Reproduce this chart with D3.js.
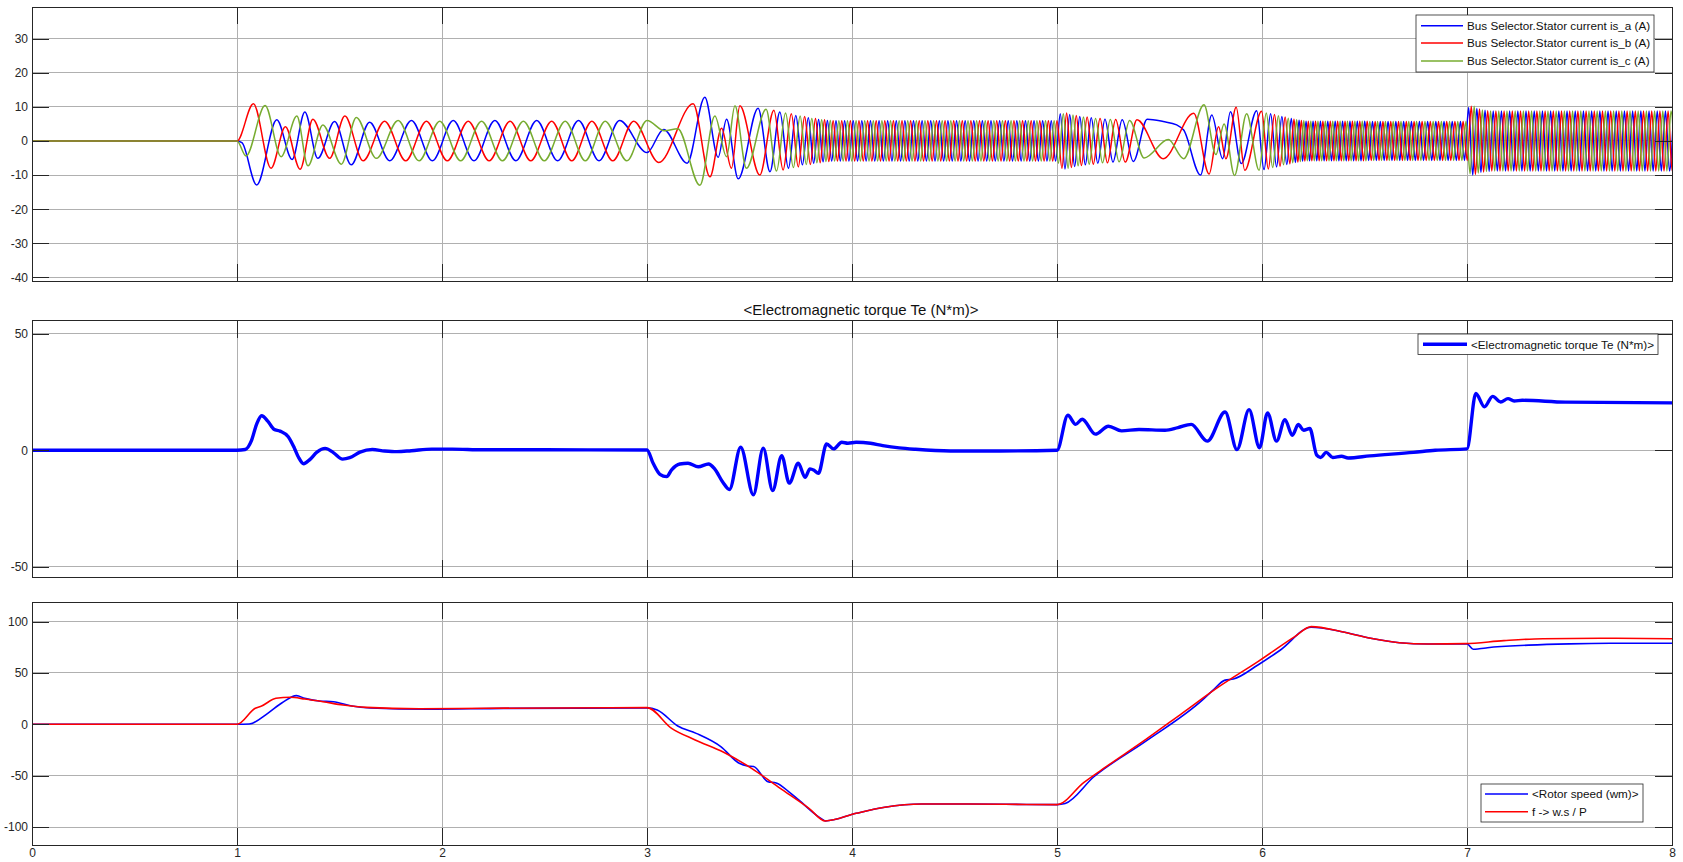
<!DOCTYPE html>
<html>
<head>
<meta charset="utf-8">
<script src="https://cdn.jsdelivr.net/npm/d3@7"></script>
<style>
html, body { margin: 0; padding: 0; background: #fff; }
svg { display: block; font-family: "Liberation Sans", Arial, Helvetica, sans-serif; }
</style>
</head>
<body>
<svg id="fig" width="1683" height="862"></svg>
<script>
// ---- axis ticks ----
const timeTicks = [0, 1, 2, 3, 4, 5, 6, 7, 8];
const currentTicks = [-40, -30, -20, -10, 0, 10, 20, 30];
const torqueTicks = [-50, 0, 50];
const speedTicks = [-100, -50, 0, 50, 100];

// ---- labels ----
const currentLabels = [
  "Bus Selector.Stator current is_a (A)",
  "Bus Selector.Stator current is_b (A)",
  "Bus Selector.Stator current is_c (A)"
];
const torqueLabel = "<Electromagnetic torque Te (N*m)>";
const speedLabels = ["<Rotor speed (wm)>", "f ->  w.s / P"];

// ---- stator currents: successive peaks / troughs [time s, current A] ----
const isA = [
  [0,0],[1.000,0],[1.024,-0.5],[1.096,-12.9],[1.194,6.2],[1.269,-5.4],[1.331,8.5],[1.394,-5.1],[1.476,5.7],[1.557,-7.0],[1.647,5.5],[1.745,-5.8],[1.851,6.0],[1.953,-5.8],[2.055,6.0],[2.156,-5.8],[2.258,6.0],[2.360,-5.8],[2.462,6.0],[2.564,-5.8],[2.666,6.0],[2.766,-5.8],[2.866,6.0],
  [3.000,-3.4],[3.081,3.4],[3.196,-6.5],[3.282,12.8],[3.347,-4.8],[3.388,6.4],[3.445,-11.1],[3.542,9.6],
  [3.600,-9.0],[3.648,8.5],[3.690,-8.0],[3.726,7.5],[3.758,-7.0],[3.787,6.8],[3.813,-6.5],[3.837,6.3],[3.859,-6.1],[3.880,6.0],
  [3.901,-5.9],[3.922,5.9],[3.943,-5.9],[3.964,5.9],[3.985,-5.9],[4.006,5.9],[4.027,-5.9],[4.048,5.9],[4.069,-5.9],[4.090,5.9],[4.111,-5.9],[4.132,5.9],[4.153,-5.9],[4.174,5.9],[4.195,-5.9],[4.216,5.9],[4.237,-5.9],[4.258,5.9],[4.279,-5.9],[4.300,5.9],[4.321,-5.9],[4.342,5.9],[4.363,-5.9],[4.384,5.9],[4.405,-5.9],[4.426,5.9],[4.447,-5.9],[4.468,5.9],[4.489,-5.9],[4.510,5.9],[4.531,-5.9],[4.552,5.9],[4.573,-5.9],[4.594,5.9],[4.615,-5.9],[4.636,5.9],[4.657,-5.9],[4.678,5.9],[4.699,-5.9],[4.720,5.9],[4.741,-5.9],[4.762,5.9],[4.783,-5.9],[4.804,5.9],[4.825,-5.9],[4.846,5.9],[4.867,-5.9],[4.888,5.9],[4.909,-5.9],[4.930,5.9],[4.951,-5.9],[4.972,5.9],[4.993,-5.9],
  [5.016,8.0],[5.039,-8.2],[5.062,7.8],[5.086,-7.5],[5.111,7.2],[5.138,-7.0],[5.167,6.8],[5.199,-6.5],[5.234,6.4],[5.273,-6.2],[5.318,6.2],[5.372,-6.0],[5.440,6.4],
  [5.518,5.7],[5.584,4.7],[5.618,3.2],[5.700,-10.0],[5.755,7.6],[5.808,-5.2],[5.846,8.6],[5.899,-6.6],
  [5.974,8.9],[6.010,-8.4],[6.042,8.0],[6.071,-7.6],[6.097,7.2],[6.121,-6.9],[6.143,6.6],[6.163,-6.3],[6.181,6.1],[6.198,-5.9],[6.215,5.8],[6.232,-5.8],[6.249,5.8],
  [6.267,-5.8],[6.285,5.8],[6.303,-5.8],[6.321,5.8],[6.339,-5.8],[6.357,5.8],[6.375,-5.8],[6.393,5.8],[6.411,-5.8],[6.429,5.8],[6.447,-5.8],[6.465,5.8],[6.483,-5.8],[6.501,5.8],[6.520,-5.7],[6.539,5.7],[6.558,-5.7],[6.577,5.7],[6.596,-5.7],[6.615,5.7],[6.634,-5.7],[6.653,5.7],[6.672,-5.7],[6.691,5.7],[6.710,-5.7],[6.729,5.7],[6.748,-5.7],[6.768,5.7],[6.788,-5.7],[6.808,5.7],[6.828,-5.7],[6.848,5.7],[6.868,-5.7],[6.888,5.7],[6.908,-5.7],[6.928,5.7],[6.948,-5.7],[6.968,5.7],[6.988,-5.7],
  [7.008,9.8],[7.028,-10.0],[7.048,9.5],[7.068,-9.2],[7.088,9.0],[7.108,-8.9],[7.128,8.8],[7.148,-8.8],[7.168,8.8],[7.188,-8.8],[7.208,8.8],[7.228,-8.8],[7.248,8.8],[7.268,-8.8],[7.288,8.8],[7.308,-8.8],[7.328,8.8],[7.348,-8.8],[7.368,8.8],[7.388,-8.8],[7.408,8.8],[7.428,-8.8],[7.448,8.8],[7.468,-8.8],[7.488,8.8],[7.508,-8.8],[7.528,8.8],[7.548,-8.8],[7.568,8.8],[7.588,-8.8],[7.608,8.8],[7.628,-8.8],[7.648,8.8],[7.668,-8.8],[7.688,8.8],[7.708,-8.8],[7.728,8.8],[7.748,-8.8],[7.768,8.8],[7.788,-8.8],[7.808,8.8],[7.828,-8.8],[7.848,8.8],[7.868,-8.8],[7.888,8.8],[7.908,-8.8],[7.928,8.8],[7.948,-8.8],[7.968,8.8],[7.988,-8.8],[8.008,8.8]
];

const isB = [
  [0,0],[1.000,0],[1.080,10.9],[1.166,-8.0],[1.236,4.2],[1.308,-8.3],[1.370,6.4],[1.452,-5.1],[1.526,7.3],[1.615,-5.8],[1.720,5.8],[1.823,-5.8],[1.924,5.8],[2.026,-5.8],[2.128,5.8],[2.230,-5.8],[2.332,5.8],[2.433,-5.8],[2.535,5.8],[2.633,-5.8],[2.731,5.8],[2.833,-5.8],[2.935,5.8],
  [3.057,-6.3],[3.225,10.9],[3.307,-10.5],[3.364,3.7],[3.412,-8.0],[3.453,10.3],[3.550,-10.0],
  [3.619,9.0],[3.664,-8.5],[3.704,8.0],[3.738,-7.6],[3.769,7.2],[3.797,-6.9],[3.822,6.6],[3.845,-6.4],[3.866,6.2],[3.887,-6.0],[3.908,5.9],
  [3.929,-5.9],[3.950,5.9],[3.971,-5.9],[3.992,5.9],[4.013,-5.9],[4.034,5.9],[4.055,-5.9],[4.076,5.9],[4.097,-5.9],[4.118,5.9],[4.139,-5.9],[4.160,5.9],[4.181,-5.9],[4.202,5.9],[4.223,-5.9],[4.244,5.9],[4.265,-5.9],[4.286,5.9],[4.307,-5.9],[4.328,5.9],[4.349,-5.9],[4.370,5.9],[4.391,-5.9],[4.412,5.9],[4.433,-5.9],[4.454,5.9],[4.475,-5.9],[4.496,5.9],[4.517,-5.9],[4.538,5.9],[4.559,-5.9],[4.580,5.9],[4.601,-5.9],[4.622,5.9],[4.643,-5.9],[4.664,5.9],[4.685,-5.9],[4.706,5.9],[4.727,-5.9],[4.748,5.9],[4.769,-5.9],[4.790,5.9],[4.811,-5.9],[4.832,5.9],[4.853,-5.9],[4.874,5.9],[4.895,-5.9],[4.916,5.9],[4.937,-5.9],[4.958,5.9],[4.979,-5.9],[5.000,5.9],
  [5.024,-8.0],[5.047,8.2],[5.070,-7.8],[5.094,7.5],[5.119,-7.2],[5.147,7.0],[5.177,-6.8],[5.210,6.6],[5.246,-6.4],[5.286,6.3],[5.333,-6.2],[5.390,6.2],
  [5.518,-5.2],[5.667,8.1],[5.742,-9.7],[5.788,4.2],[5.824,-5.2],[5.874,9.9],[5.916,-8.6],
  [5.998,8.7],[6.031,-8.2],[6.061,7.8],[6.088,-7.4],[6.113,7.0],[6.136,-6.7],[6.156,6.4],[6.175,-6.2],[6.192,6.0],[6.209,-5.9],[6.226,5.8],[6.243,-5.8],[6.261,5.8],
  [6.279,-5.8],[6.297,5.8],[6.315,-5.8],[6.333,5.8],[6.351,-5.8],[6.369,5.8],[6.387,-5.8],[6.405,5.8],[6.423,-5.8],[6.441,5.8],[6.459,-5.8],[6.477,5.8],[6.495,-5.8],[6.513,5.8],[6.533,-5.7],[6.552,5.7],[6.571,-5.7],[6.590,5.7],[6.609,-5.7],[6.628,5.7],[6.647,-5.7],[6.666,5.7],[6.685,-5.7],[6.704,5.7],[6.723,-5.7],[6.742,5.7],[6.761,-5.7],[6.781,5.7],[6.801,-5.7],[6.821,5.7],[6.841,-5.7],[6.861,5.7],[6.881,-5.7],[6.901,5.7],[6.921,-5.7],[6.941,5.7],[6.961,-5.7],[6.981,5.7],[7.001,-5.7],
  [7.021,10.2],[7.041,-9.8],[7.061,9.4],[7.081,-9.1],[7.101,8.9],[7.121,-8.8],[7.141,8.8],[7.161,-8.8],[7.181,8.8],[7.201,-8.8],[7.221,8.8],[7.241,-8.8],[7.261,8.8],[7.281,-8.8],[7.301,8.8],[7.321,-8.8],[7.341,8.8],[7.361,-8.8],[7.381,8.8],[7.401,-8.8],[7.421,8.8],[7.441,-8.8],[7.461,8.8],[7.481,-8.8],[7.501,8.8],[7.521,-8.8],[7.541,8.8],[7.561,-8.8],[7.581,8.8],[7.601,-8.8],[7.621,8.8],[7.641,-8.8],[7.661,8.8],[7.681,-8.8],[7.701,8.8],[7.721,-8.8],[7.741,8.8],[7.761,-8.8],[7.781,8.8],[7.801,-8.8],[7.821,8.8],[7.841,-8.8],[7.861,8.8],[7.881,-8.8],[7.901,8.8],[7.921,-8.8],[7.941,8.8],[7.961,-8.8],[7.981,8.8],[8.001,-8.8],[8.021,8.8]
];

const isC = [
  [0,0],[1.000,0],[1.044,-4.4],[1.137,10.4],[1.215,-4.6],[1.292,7.3],[1.346,-7.3],[1.419,4.7],[1.509,-6.8],[1.582,6.9],[1.680,-5.1],[1.786,6.0],[1.888,-5.8],[1.989,5.8],[2.091,-5.8],[2.193,5.8],[2.295,-5.8],[2.397,5.8],[2.499,-5.8],[2.601,5.8],[2.699,-5.8],[2.796,5.8],[2.902,-5.8],
  [3.000,6.0],[3.085,3.0],[3.150,3.6],[3.258,-13.0],[3.331,7.3],[3.388,-4.6],[3.429,10.3],[3.485,-8.0],
  [3.581,9.3],[3.632,-8.8],[3.676,8.2],[3.714,-7.8],[3.747,7.3],[3.777,-6.9],[3.804,6.6],[3.829,-6.4],[3.852,6.2],[3.873,-6.0],[3.894,6.0],
  [3.915,-5.9],[3.936,5.9],[3.957,-5.9],[3.978,5.9],[3.999,-5.9],[4.020,5.9],[4.041,-5.9],[4.062,5.9],[4.083,-5.9],[4.104,5.9],[4.125,-5.9],[4.146,5.9],[4.167,-5.9],[4.188,5.9],[4.209,-5.9],[4.230,5.9],[4.251,-5.9],[4.272,5.9],[4.293,-5.9],[4.314,5.9],[4.335,-5.9],[4.356,5.9],[4.377,-5.9],[4.398,5.9],[4.419,-5.9],[4.440,5.9],[4.461,-5.9],[4.482,5.9],[4.503,-5.9],[4.524,5.9],[4.545,-5.9],[4.566,5.9],[4.587,-5.9],[4.608,5.9],[4.629,-5.9],[4.650,5.9],[4.671,-5.9],[4.692,5.9],[4.713,-5.9],[4.734,5.9],[4.755,-5.9],[4.776,5.9],[4.797,-5.9],[4.818,5.9],[4.839,-5.9],[4.860,5.9],[4.881,-5.9],[4.902,5.9],[4.923,-5.9],[4.944,5.9],[4.965,-5.9],[4.986,5.9],
  [5.007,-6.5],[5.031,8.0],[5.054,-8.0],[5.078,7.6],[5.103,-7.3],[5.129,7.0],[5.157,-6.8],[5.188,6.6],[5.222,-6.4],[5.260,6.3],[5.303,-6.1],[5.354,6.0],
  [5.425,-5.0],[5.543,0.4],[5.618,-5.2],[5.717,10.6],[5.775,-4.0],[5.815,5.0],[5.866,-10.1],[5.925,8.0],
  [5.986,-8.6],[6.021,8.2],[6.052,-7.8],[6.080,7.4],[6.105,-7.0],[6.128,6.7],[6.150,-6.4],[6.169,6.2],[6.187,-6.0],[6.204,5.9],[6.221,-5.8],[6.238,5.8],[6.255,-5.8],
  [6.273,5.8],[6.291,-5.8],[6.309,5.8],[6.327,-5.8],[6.345,5.8],[6.363,-5.8],[6.381,5.8],[6.399,-5.8],[6.417,5.8],[6.435,-5.8],[6.453,5.8],[6.471,-5.8],[6.489,5.8],[6.507,-5.8],[6.526,5.7],[6.545,-5.7],[6.564,5.7],[6.583,-5.7],[6.602,5.7],[6.621,-5.7],[6.640,5.7],[6.659,-5.7],[6.678,5.7],[6.697,-5.7],[6.716,5.7],[6.735,-5.7],[6.754,5.7],[6.775,-5.7],[6.795,5.7],[6.815,-5.7],[6.835,5.7],[6.855,-5.7],[6.875,5.7],[6.895,-5.7],[6.915,5.7],[6.935,-5.7],[6.955,5.7],[6.975,-5.7],[6.995,5.7],
  [7.015,-9.6],[7.035,10.2],[7.055,-9.4],[7.075,9.1],[7.095,-8.9],[7.115,8.8],[7.135,-8.8],[7.155,8.8],[7.175,-8.8],[7.195,8.8],[7.215,-8.8],[7.235,8.8],[7.255,-8.8],[7.275,8.8],[7.295,-8.8],[7.315,8.8],[7.335,-8.8],[7.355,8.8],[7.375,-8.8],[7.395,8.8],[7.415,-8.8],[7.435,8.8],[7.455,-8.8],[7.475,8.8],[7.495,-8.8],[7.515,8.8],[7.535,-8.8],[7.555,8.8],[7.575,-8.8],[7.595,8.8],[7.615,-8.8],[7.635,8.8],[7.655,-8.8],[7.675,8.8],[7.695,-8.8],[7.715,8.8],[7.735,-8.8],[7.755,8.8],[7.775,-8.8],[7.795,8.8],[7.815,-8.8],[7.835,8.8],[7.855,-8.8],[7.875,8.8],[7.895,-8.8],[7.915,8.8],[7.935,-8.8],[7.955,8.8],[7.975,-8.8],[7.995,8.8],[8.015,-8.8]
];

// ---- electromagnetic torque [time s, N*m] ----
const torque = [
  [0,0],[1.000,0],[1.04,0.3],[1.07,4.0],[1.095,11.0],[1.12,14.8],[1.15,12.5],[1.18,9.0],[1.21,8.2],[1.25,5.8],[1.28,0.9],[1.30,-3.0],[1.325,-5.8],[1.355,-4.0],[1.39,-0.8],[1.43,0.8],[1.47,-1.0],[1.515,-3.8],[1.55,-3.2],[1.60,-0.8],[1.66,0.3],[1.72,-0.3],[1.78,-0.6],[1.85,-0.2],[1.95,0.5],[2.05,0.5],[2.2,0.2],[2.5,0.2],[3.0,0.1],
  [3.03,-5.6],[3.063,-10.3],[3.096,-11.3],[3.12,-8.4],[3.16,-5.9],[3.20,-5.6],[3.25,-7.1],[3.30,-5.9],[3.33,-8.0],[3.37,-13.7],[3.402,-16.8],[3.457,1.3],[3.519,-19.1],[3.567,0.9],[3.613,-17.3],[3.657,-2.3],[3.694,-14.1],[3.738,-5.6],[3.771,-11.6],[3.795,-8.0],[3.815,-8.6],[3.836,-9.9],[3.876,2.7],[3.91,0.6],[3.95,3.4],[3.98,3.0],[4.02,3.4],[4.09,3.0],[4.15,2.0],[4.23,1.0],[4.31,0.4],[4.48,-0.3],[4.72,-0.3],[5.0,0],
  [5.053,15.0],[5.091,11.1],[5.123,13.3],[5.187,6.9],[5.251,10.3],[5.315,8.3],[5.40,8.9],[5.527,8.6],[5.59,9.7],[5.655,11.1],[5.733,3.9],[5.82,16.4],[5.878,0.3],[5.937,17.4],[5.988,1.1],[6.027,16.0],[6.071,3.9],[6.112,13.1],[6.148,6.4],[6.177,11.0],[6.203,8.6],[6.233,9.3],[6.267,-2.1],[6.286,-3.1],[6.313,-0.9],[6.345,-3.1],[6.388,-2.6],[6.42,-3.3],[6.526,-2.4],[6.739,-0.9],[6.845,0],[7.0,0.6],
  [7.043,24.3],[7.085,18.6],[7.125,23.1],[7.164,20.7],[7.2,22.1],[7.23,21.1],[7.27,21.4],[7.48,20.6],[8.0,20.3]
];

// ---- rotor speed and reference w.s/P [time s, rad/s] ----
const rotorSpeed = [
  [0,0],[1.0,0],[1.06,0.3],[1.15,10.7],[1.22,21.0],[1.29,27.9],[1.33,25.3],[1.40,22.7],[1.47,22.0],[1.56,17.8],[1.65,15.9],[1.93,14.6],[2.3,15.5],[3.0,16.0],
  [3.05,13.9],[3.15,-1.6],[3.24,-8.8],[3.36,-21.7],[3.45,-37.9],[3.49,-40.5],[3.52,-41.0],[3.59,-55.8],[3.63,-57.0],[3.70,-67.0],[3.74,-73.6],[3.86,-93.0],[3.87,-94.0],
  [4.02,-86.6],[4.16,-80.7],[4.34,-77.5],[4.52,-77.5],[4.75,-77.8],[5.0,-78.1],
  [5.04,-77.0],[5.18,-51.0],[5.43,-16.9],[5.71,23.7],[5.76,33.0],[5.82,43.0],[5.86,44.0],[5.98,57.7],[6.09,72.3],[6.24,94.4],
  [6.39,90.1],[6.53,83.7],[6.67,79.4],[6.81,78.1],[7.0,78.3],[7.03,73.0],[7.06,73.5],[7.10,74.5],[7.3,77.0],[7.5,78.3],[7.7,78.8],[8.0,78.8]
];

const syncSpeed = [
  [0,0],[1.0,0],[1.089,15.6],[1.12,17.8],[1.19,25.3],[1.26,26.3],[1.331,24.6],[1.42,22.0],[1.517,18.8],[1.63,16.5],[1.89,15.2],[2.215,15.6],[3.0,16.2],
  [3.12,-3.9],[3.235,-15.2],[3.374,-27.2],[3.51,-42.8],[3.65,-62.3],[3.79,-81.7],[3.87,-94.0],
  [4.02,-86.6],[4.16,-80.7],[4.34,-77.5],[4.52,-77.5],[4.75,-77.8],[5.0,-78.1],
  [5.13,-56.7],[5.24,-41.2],[5.43,-15.2],[5.61,10.7],[5.79,36.6],[5.98,61.0],[6.16,85.3],[6.24,95.0],
  [6.39,90.1],[6.53,83.7],[6.67,79.4],[6.81,78.1],[6.99,78.5],[7.18,81.4],[7.37,83.3],[7.65,83.7],[8.0,83.3]
];

// ---- figure ----
const svg = d3.select("#fig");
const X0 = 32, X1 = 1672;
const x = d3.scaleLinear().domain([0, 8]).range([X0, X1]);
const gridColor = "#b0b0b0";
const axisColor = "#262626";
const BLUE = "#0000ff", RED = "#ff0000", GREEN = "#77ac30";

const panels = [
  { top: 7.3, bottom: 281, domain: [-41.06, 39.2], ticks: currentTicks,
    series: [
      { data: isA, color: BLUE, width: 1.5 },
      { data: isB, color: RED, width: 1.5 },
      { data: isC, color: GREEN, width: 1.5 }
    ],
    legend: { x: 1416, y: 15, w: 238, h: 57, lx0: 1421, lx1: 1463, tx: 1467,
      items: [
        { label: currentLabels[0], color: BLUE, width: 1.6, y: 25.7 },
        { label: currentLabels[1], color: RED, width: 1.6, y: 43 },
        { label: currentLabels[2], color: GREEN, width: 1.6, y: 61 }
      ] } },
  { top: 320.7, bottom: 577, domain: [-54.3, 55.5], ticks: torqueTicks,
    title: torqueLabel,
    series: [ { data: torque, color: BLUE, width: 3.4 } ],
    legend: { x: 1418, y: 334, w: 240, h: 20.5, lx0: 1423, lx1: 1467, tx: 1471,
      items: [ { label: torqueLabel, color: BLUE, width: 3.4, y: 344.3 } ] } },
  { top: 602.3, bottom: 845.3, domain: [-117.7, 118.7], ticks: speedTicks, xlabels: true,
    series: [
      { data: rotorSpeed, color: BLUE, width: 1.6 },
      { data: syncSpeed, color: RED, width: 1.6 }
    ],
    legend: { x: 1481, y: 784, w: 162, h: 38, lx0: 1485, lx1: 1528, tx: 1532,
      items: [
        { label: speedLabels[0], color: BLUE, width: 1.6, y: 794 },
        { label: speedLabels[1], color: RED, width: 1.6, y: 811.7 }
      ] } }
];

function styleAxis(sel, fontSize) {
  sel.select(".domain").remove();
  sel.attr("font-family", null).attr("font-size", null);
  sel.selectAll(".tick line").attr("stroke", axisColor).attr("stroke-width", 1).attr("shape-rendering", "crispEdges");
  sel.selectAll(".tick text").attr("fill", axisColor).style("font-size", fontSize + "px");
}

panels.forEach((p, i) => {
  const y = d3.scaleLinear().domain(p.domain).range([p.bottom, p.top]);
  const g = svg.append("g");

  g.append("rect").attr("x", X0).attr("y", p.top)
    .attr("width", X1 - X0).attr("height", p.bottom - p.top).attr("fill", "#fff");

  // grid
  g.append("g").selectAll("line").data(timeTicks.filter(t => t > 0 && t < 8)).join("line")
    .attr("x1", d => x(d)).attr("x2", d => x(d)).attr("y1", p.top).attr("y2", p.bottom)
    .attr("stroke", gridColor).attr("stroke-width", 1).attr("shape-rendering", "crispEdges");
  g.append("g").selectAll("line").data(p.ticks).join("line")
    .attr("x1", X0).attr("x2", X1).attr("y1", d => y(d)).attr("y2", d => y(d))
    .attr("stroke", gridColor).attr("stroke-width", 1).attr("shape-rendering", "crispEdges");

  // traces
  svg.append("clipPath").attr("id", "plot-clip-" + i).append("rect")
    .attr("x", X0).attr("y", p.top).attr("width", X1 - X0).attr("height", p.bottom - p.top);
  const plot = g.append("g").attr("clip-path", `url(#plot-clip-${i})`);
  const line = d3.line().x(d => x(d[0])).y(d => y(d[1])).curve(d3.curveMonotoneX);
  p.series.forEach(s => {
    plot.append("path").datum(s.data).attr("d", line)
      .attr("fill", "none").attr("stroke", s.color).attr("stroke-width", s.width)
      .attr("stroke-linejoin", "round").attr("stroke-linecap", "round");
  });

  // axes with inward ticks
  const fmt = d => String(d);
  g.append("g").attr("transform", `translate(${X0},0)`)
    .call(d3.axisLeft(y).tickValues(p.ticks).tickSizeInner(-17).tickSizeOuter(0).tickPadding(4).tickFormat(fmt))
    .call(s => styleAxis(s, 12));
  g.append("g").attr("transform", `translate(${X1},0)`)
    .call(d3.axisRight(y).tickValues(p.ticks).tickSizeInner(-17).tickSizeOuter(0).tickFormat(""))
    .call(s => styleAxis(s, 12));
  g.append("g").attr("transform", `translate(0,${p.top})`)
    .call(d3.axisBottom(x).tickValues(timeTicks).tickSizeInner(17).tickSizeOuter(0).tickFormat(""))
    .call(s => styleAxis(s, 12));
  g.append("g").attr("transform", `translate(0,${p.bottom})`)
    .call(d3.axisBottom(x).tickValues(timeTicks).tickSizeInner(-17).tickSizeOuter(0).tickPadding(3)
      .tickFormat(p.xlabels ? fmt : ""))
    .call(s => styleAxis(s, 12));

  g.append("rect").attr("x", X0).attr("y", p.top)
    .attr("width", X1 - X0).attr("height", p.bottom - p.top)
    .attr("fill", "none").attr("stroke", axisColor).attr("stroke-width", 1)
    .attr("shape-rendering", "crispEdges");

  if (p.title) {
    svg.append("text").attr("x", 861).attr("y", p.top - 6)
      .attr("text-anchor", "middle").attr("fill", "#111").style("font-size", "15px")
      .text(p.title);
  }

  // legend
  const L = p.legend;
  const lg = svg.append("g");
  lg.append("rect").attr("x", L.x).attr("y", L.y).attr("width", L.w).attr("height", L.h)
    .attr("fill", "#fff").attr("stroke", axisColor).attr("stroke-width", 0.8);
  L.items.forEach(it => {
    lg.append("line").attr("x1", L.lx0).attr("x2", L.lx1).attr("y1", it.y).attr("y2", it.y)
      .attr("stroke", it.color).attr("stroke-width", it.width);
    lg.append("text").attr("x", L.tx).attr("y", it.y).attr("dy", "0.36em")
      .attr("fill", "#111").style("font-size", "11.7px").text(it.label);
  });
});
</script>
</body>
</html>
